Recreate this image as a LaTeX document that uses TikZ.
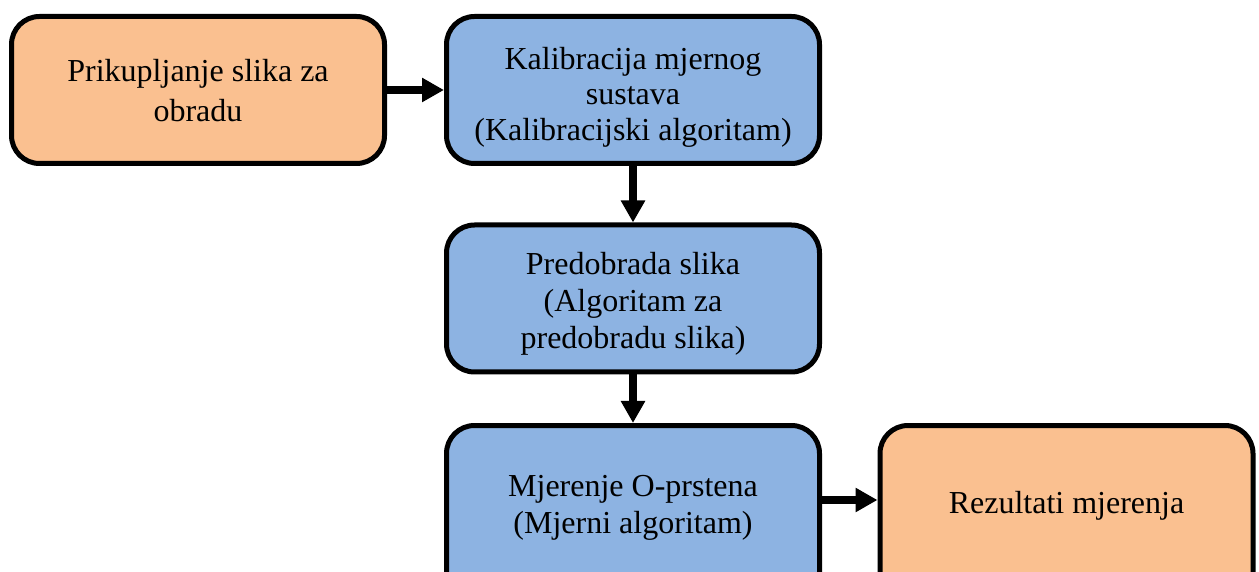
\documentclass[tikz,border=0pt]{standalone}
\usepackage{fontspec}
\setmainfont{Liberation Serif}
\usetikzlibrary{arrows.meta,calc}
\definecolor{boxorange}{HTML}{FAC090}
\definecolor{boxblue}{HTML}{8DB3E2}
\tikzset{
  stage/.style={draw=black, line width=2.5pt, rounded corners=14pt,
    minimum width=186.5pt, minimum height=73.5pt, inner sep=0pt},
  io/.style={stage, fill=boxorange},
  proc/.style={stage, fill=boxblue},
  tall/.style={minimum height=88.5pt},
  caption/.style={align=center, inner sep=0pt,
    font=\fontsize{16pt}{#1}\selectfont},
  caption/.default=20pt,
  flow/.style={line width=4pt, -{Triangle[length=11pt,width=11.5pt]}}
}
\begin{document}
\begin{tikzpicture}[x=0.5pt, y=-0.5pt]
  \useasboundingbox (0,0) rectangle (1259,572);
  % boxes
  \node[io]         (collect) at (198,90)     {};
  \node[proc]       (calib)   at (633,90)     {};
  \node[proc]       (prep)    at (633,298.5)  {};
  \node[proc, tall] (measure) at (633,514)    {};
  \node[io, tall]   (result)  at (1066.5,514) {};
  % captions
  \node[caption]         (collect-t) at ($(collect)+(0,1)$)   {Prikupljanje slika za\\obradu};
  \node[caption=17.75pt] (calib-t)   at ($(calib)+(0,7)$)     {Kalibracija mjernog\\sustava\\(Kalibracijski algoritam)};
  \node[caption=18.5pt]  (prep-t)    at ($(prep)+(0,5)$)      {Predobrada slika\\ (Algoritam za\\predobradu slika)};
  \node[caption=18.5pt]  (measure-t) at ($(measure)+(0,-6)$)  {Mjerenje O-prstena\\(Mjerni algoritam)};
  \node[caption]         (result-t)  at ($(result)+(0,-8)$)   {Rezultati mjerenja};
  % flow
  \draw[flow] (collect.east) -- (calib.west);
  \draw[flow] (calib.south) -- (prep.north);
  \draw[flow] (prep.south) -- (measure.north);
  \draw[flow] ([yshift=7pt]measure.east) -- ([yshift=7pt]result.west);
\end{tikzpicture}
\end{document}
